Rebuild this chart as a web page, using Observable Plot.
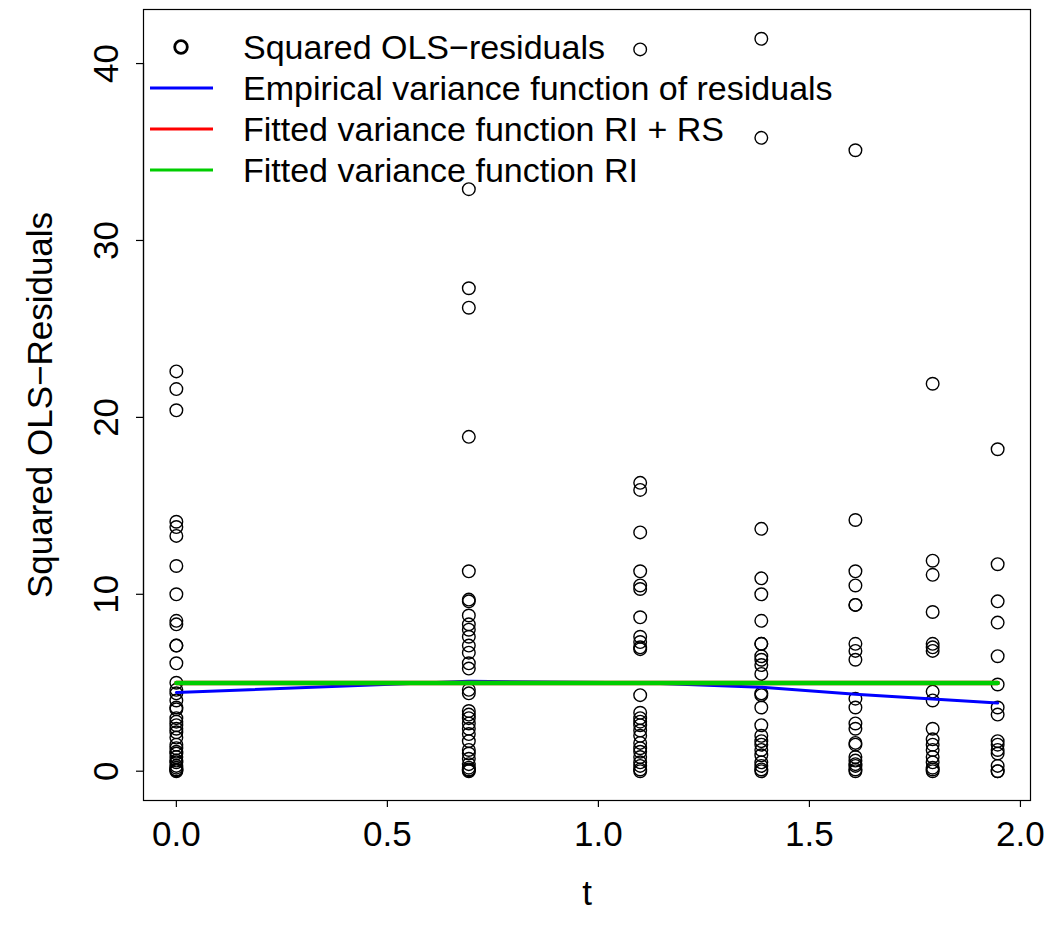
<!DOCTYPE html>
<html>
<head>
<meta charset="utf-8">
<script src="https://cdn.jsdelivr.net/npm/d3@7"></script>
<script src="https://cdn.jsdelivr.net/npm/@observablehq/plot@0.6"></script>
<style>
  body { margin: 0; background: #fff; }
  #chart svg { display: block; }
</style>
</head>
<body>
<div id="chart"></div>
<script>
// time points (t = log time)
const tPoints = [0, 0.693, 1.099, 1.386, 1.609, 1.792, 1.946];

// squared OLS residuals per time point
const res_t0 = [22.6, 21.6, 20.4, 14.1, 13.8, 13.3, 11.6, 10.0, 8.5, 8.3, 7.1, 7.1, 6.1, 5.0, 4.6, 4.4, 4.0, 3.6, 3.5, 3.0, 2.8, 2.6, 2.4, 2.2, 1.9, 1.5, 1.3, 1.1, 1.0, 0.8, 0.6, 0.5, 0.3, 0.2, 0.1, 0.05, 0.0];
const res_t1 = [32.9, 27.3, 26.2, 18.9, 11.3, 9.7, 9.6, 8.8, 8.3, 8.0, 7.6, 7.1, 6.7, 6.1, 5.8, 4.6, 4.4, 3.4, 3.2, 3.0, 2.7, 2.4, 2.1, 1.7, 1.2, 1.0, 0.7, 0.4, 0.2, 0.1, 0.05, 0.0];
const res_t2 = [40.8, 16.3, 15.9, 13.5, 11.3, 10.5, 10.3, 8.7, 7.6, 7.3, 7.0, 6.9, 4.3, 3.3, 3.0, 2.8, 2.6, 2.3, 2.0, 1.6, 1.3, 1.1, 0.8, 0.5, 0.3, 0.1, 0.0];
const res_t3 = [41.4, 35.8, 13.7, 10.9, 10.0, 8.5, 7.2, 7.2, 6.5, 6.3, 6.0, 5.5, 4.4, 4.3, 3.6, 2.6, 2.0, 1.7, 1.5, 1.2, 0.9, 0.5, 0.3, 0.1, 0.0];
const res_t4 = [35.1, 14.2, 11.3, 10.5, 9.4, 9.4, 7.2, 6.8, 6.3, 4.1, 3.6, 2.7, 2.4, 1.6, 1.5, 0.8, 0.6, 0.4, 0.3, 0.1, 0.0];
const res_t5 = [21.9, 11.9, 11.1, 9.0, 7.2, 7.0, 6.8, 4.5, 4.0, 2.4, 1.8, 1.5, 1.2, 0.8, 0.5, 0.2, 0.1, 0.0];
const res_t6 = [18.2, 11.7, 9.6, 8.4, 6.5, 4.9, 3.6, 3.2, 1.7, 1.5, 1.2, 1.0, 0.3, 0.0, 0.0];
const residualsByTime = [res_t0, res_t1, res_t2, res_t3, res_t4, res_t5, res_t6];

// variance functions at each time point
const empiricalVar = [4.45, 5.08, 5.0, 4.75, 4.35, 4.08, 3.85];
const fittedRIRS = [4.98, 4.98, 4.98, 4.98, 4.98, 4.98, 4.98];
const fittedRI = [4.98, 4.98, 4.98, 4.98, 4.98, 4.98, 4.98];

// ticks and labels
const xTicks = [0, 0.5, 1.0, 1.5, 2.0];
const yTicks = [0, 10, 20, 30, 40];
const xLabel = "t";
const yLabel = "Squared OLS\u2212Residuals";
const legendLabels = ["Squared OLS\u2212residuals", "Empirical variance function of residuals", "Fitted variance function RI + RS", "Fitted variance function RI"];
const legendColors = ["black", "#0000FF", "#FF0000", "#00CD00"];

// build tables
const points = residualsByTime.flatMap((arr, i) => arr.map(v => ({t: tPoints[i], r: v})));
const curve = (vals) => vals.map((v, i) => ({t: tPoints[i], v}));

const font = "'Liberation Sans', Arial, Helvetica, sans-serif";
const fs = 35;
const lfs = 34;

// R-style 4% axis extension
const xr = d3.extent(tPoints);
const yr = [0, d3.max(points, d => d.r)];
const xpad = (xr[1] - xr[0]) * 0.04, ypad = (yr[1] - yr[0]) * 0.04;

const plot = Plot.plot({
  width: 1049,
  height: 925,
  marginLeft: 143,
  marginRight: 19,
  marginTop: 9,
  marginBottom: 125,
  style: {fontFamily: font, background: "#fff", color: "black"},
  x: {domain: [xr[0] - xpad, xr[1] + xpad], axis: null},
  y: {domain: [yr[0] - ypad, yr[1] + ypad], axis: null},
  marks: [
    Plot.frame({stroke: "black", strokeWidth: 1.2}),
    // y axis
    Plot.ruleX([xr[0] - xpad], {y1: yTicks[0], y2: yTicks[yTicks.length - 1], stroke: "black", strokeWidth: 1.2}),
    Plot.axisY(yTicks, {tickSize: 7, tickFormat: () => "", label: null, strokeWidth: 1.2}),
    Plot.text(yTicks, {y: d => d, text: d => String(d), frameAnchor: "left", textAnchor: "middle", lineAnchor: "middle", dx: -37, rotate: -90, fontSize: fs, fill: "black"}),
    // x axis
    Plot.ruleY([yr[0] - ypad], {x1: xTicks[0], x2: xTicks[xTicks.length - 1], stroke: "black", strokeWidth: 1.2}),
    Plot.axisX(xTicks, {tickSize: 7, tickFormat: () => "", label: null, strokeWidth: 1.2}),
    Plot.text(xTicks, {x: d => d, text: d => d.toFixed(1), frameAnchor: "bottom", textAnchor: "middle", lineAnchor: "middle", dy: 34, fontSize: fs, fill: "black"}),
    // axis titles
    Plot.text([xLabel], {text: d => d, frameAnchor: "bottom", textAnchor: "middle", lineAnchor: "middle", dy: 93, fontSize: fs, fill: "black"}),
    Plot.text([yLabel], {text: d => d, frameAnchor: "left", textAnchor: "middle", lineAnchor: "middle", dx: -103, rotate: -90, fontSize: fs, fill: "black"}),
    // data
    Plot.dot(points, {x: "t", y: "r", r: 6.3, stroke: "black", strokeWidth: 1.4, fill: "none"}),
    Plot.line(curve(empiricalVar), {x: "t", y: "v", stroke: legendColors[1], strokeWidth: 3}),
    Plot.line(curve(fittedRIRS), {x: "t", y: "v", stroke: legendColors[2], strokeWidth: 4.5}),
    Plot.line(curve(fittedRI), {x: "t", y: "v", stroke: legendColors[3], strokeWidth: 4.5})
  ]
});

document.getElementById("chart").appendChild(plot);

// legend drawn inside the plot area (no box)
const svg = d3.select(plot);
const lg = svg.append("g").attr("font-family", font).attr("font-size", lfs).attr("text-anchor", "start");
legendLabels.forEach((lab, i) => {
  const cy = 47 + i * 41;
  if (i === 0) {
    lg.append("circle").attr("cx", 181).attr("cy", cy).attr("r", 6.3)
      .attr("fill", "none").attr("stroke", "black").attr("stroke-width", 2.8);
  } else {
    lg.append("line").attr("x1", 150).attr("x2", 213).attr("y1", cy).attr("y2", cy)
      .attr("stroke", legendColors[i]).attr("stroke-width", 3);
  }
  lg.append("text").attr("x", 243).attr("y", cy).attr("dy", "0.35em").attr("text-anchor", "start").attr("fill", "black").text(lab);
});
</script>
</body>
</html>
